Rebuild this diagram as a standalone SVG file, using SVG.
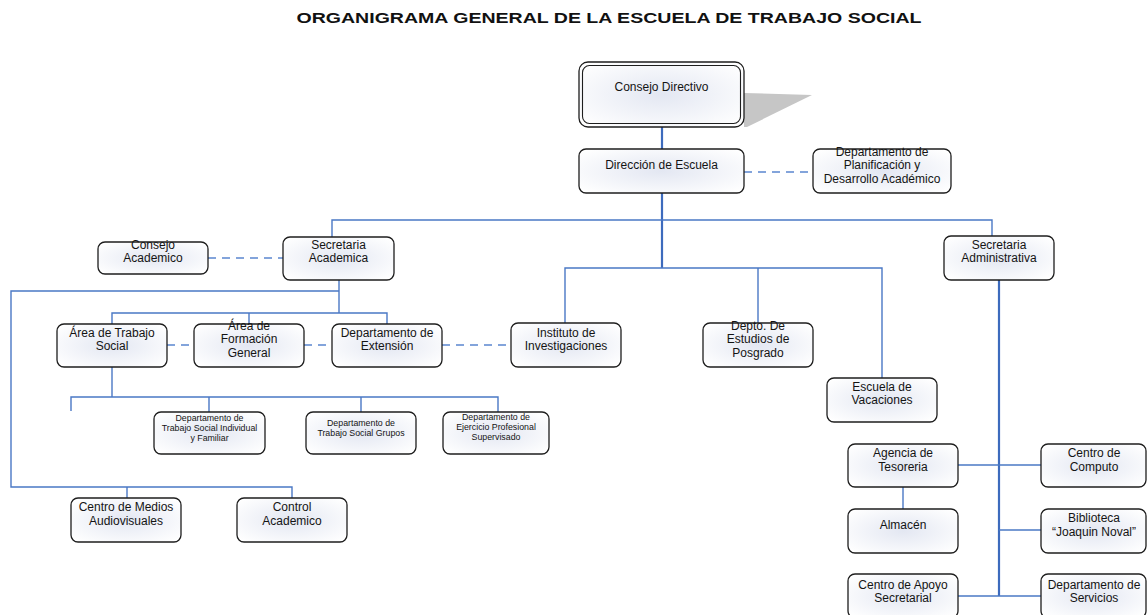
<svg xmlns="http://www.w3.org/2000/svg" width="1147" height="615" viewBox="0 0 1147 615">
<defs>
<radialGradient id="g" cx="50%" cy="50%" r="65%">
<stop offset="0" stop-color="#e3e7f2"/>
<stop offset="1" stop-color="#ffffff"/>
</radialGradient>
<style>
.box{fill:url(#g);stroke:#1e1e1e;stroke-width:1.3}
.t{font-family:"Liberation Sans",Arial,sans-serif;font-size:12px;fill:#141414;text-anchor:middle}
.s{font-family:"Liberation Sans",Arial,sans-serif;font-size:8.8px;fill:#141414;text-anchor:middle}
.ln{fill:none;stroke:#4a78c5;stroke-width:1.4}
.th{fill:none;stroke:#3d6bbd;stroke-width:2.2}
.da{fill:none;stroke:#5b86cf;stroke-width:1.5;stroke-dasharray:8 6}
</style>
</defs>
<rect width="1147" height="615" fill="#ffffff"/>
<text x="609" y="23" font-family="Liberation Sans, Arial, sans-serif" font-size="15.5" font-weight="bold" fill="#111" text-anchor="middle" textLength="625" lengthAdjust="spacingAndGlyphs">ORGANIGRAMA GENERAL DE LA ESCUELA DE TRABAJO SOCIAL</text>

<g id="connectors">
<path class="th" d="M662 127V149"/>
<path class="da" d="M744 172H813"/>
<path class="th" d="M662 193V268"/>
<path class="ln" d="M332 237V220H992V236"/>
<path class="ln" d="M565 323V268H882V378"/>
<path class="ln" d="M758 268V323"/>
<path class="da" d="M208 258H283"/>
<path class="ln" d="M339 280V313"/>
<path class="ln" d="M339 291H11V487H292V498"/>
<path class="ln" d="M127 487V498"/>
<path class="ln" d="M112 324V313H387V324"/>
<path class="ln" d="M249 313V324"/>
<path class="da" d="M167 345H194M304 345H332M442 345H511"/>
<path class="ln" d="M112 367V397"/>
<path class="ln" d="M71 411V397H498V412"/>
<path class="ln" d="M209 397V412M361 397V412"/>
<path class="th" d="M999 280V596"/>
<path class="ln" d="M958 465H1041"/>
<path class="ln" d="M903 487V509"/>
<path class="ln" d="M999 530H1041"/>
<path class="ln" d="M958 596H1041"/>
</g>

<g id="consejo-directivo">
<polygon points="744,93 812,95 747,127 744,127" fill="#c6c6c6"/>
<rect class="box" x="579" y="62" width="165" height="65" rx="9"/>
<rect x="582.5" y="65.5" width="158" height="58" rx="7" fill="none" stroke="#1e1e1e" stroke-width="1.1"/>
<text class="t" x="661.5" y="91.3">Consejo Directivo</text>
</g>

<g id="direccion-escuela">
<rect class="box" x="579" y="149" width="165" height="44" rx="7"/>
<text class="t" x="661.5" y="169.3">Dirección de Escuela</text>
</g>

<g id="planificacion">
<rect class="box" x="813" y="149" width="138" height="44" rx="7"/>
<text class="t" y="155.8"><tspan x="882">Departamento de</tspan><tspan x="882" dy="13.5">Planificación y</tspan><tspan x="882" dy="13.5">Desarrollo Académico</tspan></text>
</g>

<g id="consejo-academico">
<rect class="box" x="98" y="242" width="110" height="32" rx="7"/>
<text class="t" y="248.6"><tspan x="153">Consejo</tspan><tspan x="153" dy="13.5">Academico</tspan></text>
</g>

<g id="secretaria-academica">
<rect class="box" x="283" y="237" width="111" height="43" rx="7"/>
<text class="t" y="248.6"><tspan x="338.5">Secretaria</tspan><tspan x="338.5" dy="13.5">Academica</tspan></text>
</g>

<g id="secretaria-administrativa">
<rect class="box" x="944" y="236" width="110" height="44" rx="7"/>
<text class="t" y="248.6"><tspan x="999">Secretaria</tspan><tspan x="999" dy="13.5">Administrativa</tspan></text>
</g>

<g id="area-trabajo-social">
<rect class="box" x="57" y="324" width="110" height="43" rx="7"/>
<text class="t" y="336.6"><tspan x="112">Área de Trabajo</tspan><tspan x="112" dy="13.5">Social</tspan></text>
</g>

<g id="area-formacion-general">
<rect class="box" x="194" y="324" width="110" height="43" rx="7"/>
<text class="t" y="329.8"><tspan x="249">Área de</tspan><tspan x="249" dy="13.5">Formación</tspan><tspan x="249" dy="13.5">General</tspan></text>
</g>

<g id="departamento-extension">
<rect class="box" x="332" y="324" width="110" height="43" rx="7"/>
<text class="t" y="336.6"><tspan x="387">Departamento de</tspan><tspan x="387" dy="13.5">Extensión</tspan></text>
</g>

<g id="instituto-investigaciones">
<rect class="box" x="511" y="323" width="110" height="44" rx="7"/>
<text class="t" y="336.6"><tspan x="566">Instituto de</tspan><tspan x="566" dy="13.5">Investigaciones</tspan></text>
</g>

<g id="estudios-posgrado">
<rect class="box" x="703" y="323" width="110" height="44" rx="7"/>
<text class="t" y="329.8"><tspan x="758">Depto. De</tspan><tspan x="758" dy="13.5">Estudios de</tspan><tspan x="758" dy="13.5">Posgrado</tspan></text>
</g>

<g id="escuela-vacaciones">
<rect class="box" x="827" y="378" width="110" height="44" rx="7"/>
<text class="t" y="390.6"><tspan x="882">Escuela de</tspan><tspan x="882" dy="13.5">Vacaciones</tspan></text>
</g>

<g id="dts-individual">
<rect class="box" x="154" y="412" width="111" height="42" rx="7"/>
<text class="s" y="420.6"><tspan x="209.5">Departamento de</tspan><tspan x="209.5" dy="10">Trabajo Social Individual</tspan><tspan x="209.5" dy="10">y Familiar</tspan></text>
</g>

<g id="dts-grupos">
<rect class="box" x="306" y="412" width="110" height="42" rx="7"/>
<text class="s" y="425.6"><tspan x="361">Departamento de</tspan><tspan x="361" dy="10">Trabajo Social Grupos</tspan></text>
</g>

<g id="ejercicio-profesional">
<rect class="box" x="443" y="412" width="106" height="42" rx="7"/>
<text class="s" y="419.6"><tspan x="496">Departamento de</tspan><tspan x="496" dy="10">Ejercicio Profesional</tspan><tspan x="496" dy="10">Supervisado</tspan></text>
</g>

<g id="centro-medios">
<rect class="box" x="71" y="498" width="110" height="44" rx="7"/>
<text class="t" y="511.1"><tspan x="126">Centro de Medios</tspan><tspan x="126" dy="13.5">Audiovisuales</tspan></text>
</g>

<g id="control-academico">
<rect class="box" x="237" y="498" width="110" height="44" rx="7"/>
<text class="t" y="511.1"><tspan x="292">Control</tspan><tspan x="292" dy="13.5">Academico</tspan></text>
</g>

<g id="agencia-tesoreria">
<rect class="box" x="848" y="444" width="110" height="43" rx="7"/>
<text class="t" y="457.1"><tspan x="903">Agencia de</tspan><tspan x="903" dy="13.5">Tesoreria</tspan></text>
</g>

<g id="centro-computo">
<rect class="box" x="1041" y="444" width="105" height="43" rx="7"/>
<text class="t" y="457.1"><tspan x="1094">Centro de</tspan><tspan x="1094" dy="13.5">Computo</tspan></text>
</g>

<g id="almacen">
<rect class="box" x="848" y="509" width="110" height="44" rx="7"/>
<text class="t" x="903" y="529.3">Almacén</text>
</g>

<g id="biblioteca">
<rect class="box" x="1041" y="509" width="105" height="44" rx="7"/>
<text class="t" y="522.1"><tspan x="1094">Biblioteca</tspan><tspan x="1094" dy="13.5">“Joaquin Noval”</tspan></text>
</g>

<g id="centro-apoyo">
<rect class="box" x="848" y="574" width="110" height="44" rx="7"/>
<text class="t" y="588.6"><tspan x="903">Centro de Apoyo</tspan><tspan x="903" dy="13.5">Secretarial</tspan></text>
</g>

<g id="departamento-servicios">
<rect class="box" x="1041" y="574" width="105" height="44" rx="7"/>
<text class="t" y="588.6"><tspan x="1094">Departamento de</tspan><tspan x="1094" dy="13.5">Servicios</tspan></text>
</g>
</svg>
